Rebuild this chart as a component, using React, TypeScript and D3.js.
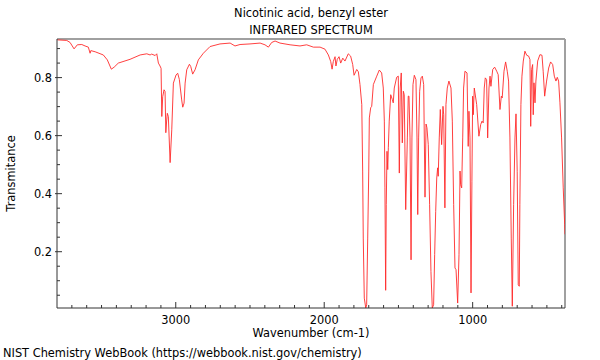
import * as d3 from 'd3';

// spectrum, wavenumber (cm-1) vs transmittance
const wavenumbers = [
  3797, 3734, 3712, 3685, 3663, 3633, 3611, 3589, 3577, 3572, 3543, 3488, 3461, 3434, 3415, 3387,
  3308, 3240, 3195, 3173, 3162, 3139, 3128, 3117, 3106, 3099, 3094, 3088, 3079, 3072, 3067, 3061,
  3057, 3050, 3038, 3027, 3016, 2998, 2987, 2976, 2960, 2953, 2944, 2937, 2926, 2908, 2899, 2886,
  2870, 2848, 2814, 2769, 2702, 2634, 2601, 2567, 2500, 2432, 2399, 2376, 2354, 2331, 2298, 2230,
  2163, 2118, 2073, 2028, 1995, 1972, 1956, 1947, 1939, 1927, 1921, 1912, 1900, 1889, 1875, 1860,
  1838, 1822, 1808, 1799, 1781, 1770, 1759, 1747, 1741, 1737, 1730, 1720, 1714, 1707, 1700, 1696,
  1687, 1680, 1669, 1646, 1629, 1613, 1602, 1595, 1591, 1586, 1582, 1577, 1572, 1568, 1562, 1552,
  1541, 1535, 1528, 1512, 1501, 1494, 1488, 1481, 1474, 1467, 1461, 1451, 1440, 1434, 1429, 1422,
  1415, 1409, 1402, 1393, 1382, 1375, 1370, 1364, 1357, 1348, 1339, 1330, 1321, 1314, 1308, 1299,
  1290, 1281, 1272, 1263, 1256, 1249, 1242, 1236, 1232, 1225, 1218, 1209, 1200, 1195, 1187, 1180,
  1171, 1160, 1146, 1137, 1128, 1119, 1112, 1101, 1092, 1085, 1081, 1074, 1067, 1061, 1052, 1038,
  1030, 1025, 1018, 1011, 1005, 1000, 996, 989, 973, 958, 946, 937, 929, 922, 915, 906,
  899, 890, 883, 877, 865, 852, 838, 828, 816, 807, 801, 789, 778, 767, 758, 749,
  740, 733, 724, 715, 708, 700, 693, 686, 682, 675, 668, 659, 648, 636, 623, 614,
  609, 603, 596, 592, 587, 580, 574, 562, 547, 533, 525, 515, 502, 488, 475, 461,
  450, 439, 430, 421, 412, 401, 390, 380, 378,
];
const transmittance = [
  0.930, 0.928, 0.921, 0.899, 0.913, 0.914, 0.909, 0.905, 0.884, 0.893, 0.889, 0.878, 0.861, 0.829, 0.836, 0.850,
  0.863, 0.878, 0.882, 0.878, 0.881, 0.876, 0.882, 0.850, 0.840, 0.832, 0.666, 0.734, 0.758, 0.752, 0.610, 0.654,
  0.677, 0.666, 0.507, 0.620, 0.781, 0.809, 0.815, 0.794, 0.723, 0.698, 0.712, 0.781, 0.827, 0.846, 0.838, 0.812,
  0.827, 0.861, 0.884, 0.907, 0.916, 0.919, 0.909, 0.914, 0.916, 0.919, 0.913, 0.905, 0.921, 0.926, 0.919, 0.913,
  0.909, 0.913, 0.905, 0.905, 0.898, 0.878, 0.855, 0.829, 0.855, 0.872, 0.840, 0.863, 0.872, 0.850, 0.867, 0.857,
  0.882, 0.874, 0.845, 0.808, 0.828, 0.820, 0.776, 0.707, 0.478, 0.247, 0.040, 0.006, 0.017, 0.247, 0.478, 0.661,
  0.696, 0.701, 0.776, 0.805, 0.826, 0.816, 0.764, 0.650, 0.420, 0.067, 0.362, 0.546, 0.483, 0.558, 0.650, 0.741,
  0.724, 0.713, 0.764, 0.801, 0.805, 0.471, 0.764, 0.816, 0.575, 0.753, 0.741, 0.345, 0.592, 0.736, 0.736, 0.592,
  0.172, 0.592, 0.776, 0.808, 0.793, 0.592, 0.328, 0.592, 0.753, 0.799, 0.805, 0.776, 0.388, 0.640, 0.627, 0.569,
  0.362, 0.132, 0.006, 0.017, 0.190, 0.339, 0.454, 0.489, 0.460, 0.592, 0.690, 0.569, 0.701, 0.672, 0.351, 0.707,
  0.764, 0.788, 0.764, 0.650, 0.362, 0.144, 0.138, 0.023, 0.190, 0.478, 0.431, 0.420, 0.592, 0.764, 0.822, 0.816,
  0.563, 0.684, 0.592, 0.058, 0.443, 0.736, 0.672, 0.764, 0.707, 0.598, 0.638, 0.650, 0.644, 0.764, 0.799, 0.793,
  0.592, 0.764, 0.805, 0.770, 0.828, 0.836, 0.822, 0.810, 0.690, 0.736, 0.730, 0.822, 0.854, 0.822, 0.788, 0.592,
  0.247, 0.012, 0.362, 0.592, 0.675, 0.477, 0.086, 0.081, 0.362, 0.707, 0.805, 0.857, 0.891, 0.877, 0.874, 0.862,
  0.632, 0.828, 0.845, 0.672, 0.782, 0.713, 0.788, 0.857, 0.879, 0.877, 0.822, 0.736, 0.788, 0.833, 0.854, 0.845,
  0.805, 0.788, 0.801, 0.788, 0.713, 0.592, 0.420, 0.293, 0.260,
];

const xTicks = [3000, 2000, 1000];
const yTicks = [0.2, 0.4, 0.6, 0.8];

const W = 600;
const H = 360;
const left = 57, right = 565, top = 39, bottom = 308;
const font = 'DejaVu Sans, sans-serif';
const fs = 11.4;

export default function App() {
  const x = d3.scaleLinear().domain([3800, 378]).range([left, right]);
  const y = d3.scaleLinear().domain([0.006, 0.933]).range([bottom, top]);

  const points: [number, number][] = wavenumbers.map((w, i) => [w, transmittance[i]]);
  const line = d3.line<[number, number]>()
    .x(d => x(d[0]))
    .y(d => y(d[1]));

  const xMinor = d3.range(3700, 378, -100);
  const yMinor = d3.range(0.05, 0.93, 0.05);

  return (
    <svg width={W} height={H} style={{ position: 'absolute', left: 0, top: 0, background: '#fff' }}
      fontFamily={font}>
      <defs>
        <clipPath id="plot">
          <rect x={left} y={top} width={right - left} height={bottom - top} />
        </clipPath>
      </defs>

      <text x={(left + right) / 2} y={17} textAnchor="middle" fontSize={fs}>Nicotinic acid, benzyl ester</text>
      <text x={(left + right) / 2} y={34} textAnchor="middle" fontSize={fs}>INFRARED SPECTRUM</text>

      {/* frame: grey top/right, dark left/bottom */}
      <line x1={left} x2={right} y1={top} y2={top} stroke="#a0a0a0" strokeWidth={2} />
      <line x1={right} x2={right} y1={top} y2={bottom} stroke="#a0a0a0" strokeWidth={2} />

      <path d={line(points) ?? ''} fill="none" stroke="#ff2a2a" strokeWidth={0.9}
        strokeLinejoin="round" clipPath="url(#plot)" />

      <line x1={left} x2={left} y1={top} y2={bottom} stroke="#333" strokeWidth={1} />
      <line x1={left} x2={right} y1={bottom} y2={bottom} stroke="#333" strokeWidth={1} />

      {xMinor.map(t => (
        <line key={'xm' + t} x1={x(t)} x2={x(t)} y1={bottom} y2={bottom - (t % 1000 === 0 ? 6 : 3)}
          stroke="#333" strokeWidth={1} />
      ))}
      {xTicks.map(t => (
        <text key={'xt' + t} x={x(t)} y={324} textAnchor="middle" fontSize={fs}>{t}</text>
      ))}
      <text x={(left + right) / 2} y={337} textAnchor="middle" fontSize={fs}>Wavenumber (cm-1)</text>

      {yMinor.map(t => {
        const major = Math.abs(t * 5 - Math.round(t * 5)) < 1e-6;
        return (
          <line key={'ym' + t.toFixed(2)} x1={major ? left - 2 : left} x2={left + (major ? 5 : 3)}
            y1={y(t)} y2={y(t)} stroke="#333" strokeWidth={1} />
        );
      })}
      {yTicks.map(t => (
        <text key={'yt' + t} x={52} y={y(t) + 4.5} textAnchor="end" fontSize={fs}>{t.toFixed(1)}</text>
      ))}
      <text transform={`translate(15, ${(top + bottom) / 2}) rotate(-90)`} textAnchor="middle" fontSize={fs}>
        Transmitance
      </text>

      <text x={3} y={357} fontSize={fs}>NIST Chemistry WebBook (https://webbook.nist.gov/chemistry)</text>
    </svg>
  );
}
